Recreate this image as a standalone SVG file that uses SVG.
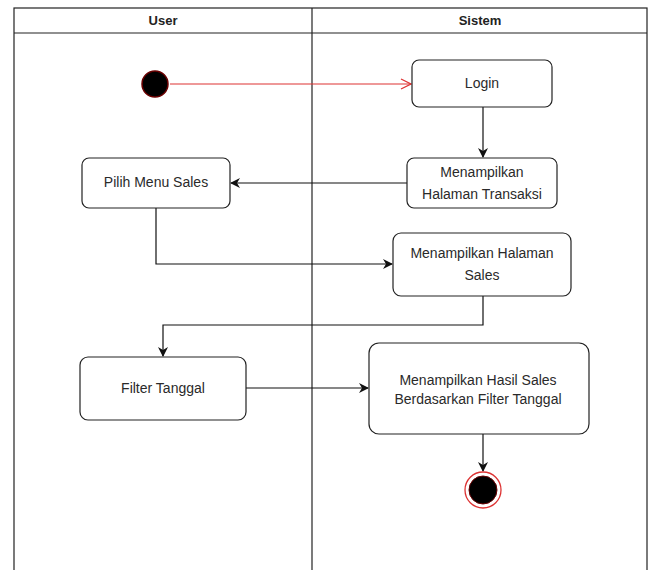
<svg xmlns="http://www.w3.org/2000/svg" width="651" height="570" viewBox="0 0 651 570">
<defs>
<style>
.lane{fill:none;stroke:#222;stroke-width:1.2}
.box{fill:#fff;stroke:#222;stroke-width:1.2}
.t{font-family:"Liberation Sans",Arial,sans-serif;font-size:14px;fill:#2a2a2a;text-anchor:middle}
.h{font-family:"Liberation Sans",Arial,sans-serif;font-size:13px;font-weight:bold;fill:#222;text-anchor:middle}
.c{fill:none;stroke:#111;stroke-width:1.2}
</style>
<marker id="a" viewBox="0 0 10 10" refX="9" refY="5" markerWidth="10" markerHeight="10" markerUnits="userSpaceOnUse" orient="auto">
<path d="M0,0 L10,5 L0,10 L3,5 Z" fill="#111"/>
</marker>
<marker id="o" viewBox="0 0 12 12" refX="11" refY="6" markerWidth="12" markerHeight="12" markerUnits="userSpaceOnUse" orient="auto">
<path d="M1,1 L11,6 L1,11" fill="none" stroke="#d33" stroke-width="1.3"/>
</marker>
</defs>
<rect width="651" height="570" fill="#fff"/>
<g id="swimlanes">
<rect class="lane" x="14" y="8" width="633" height="570"/>
<line class="lane" x1="14" y1="33" x2="647" y2="33"/>
<line class="lane" x1="312" y1="8" x2="312" y2="570"/>
<text class="h" x="163" y="25">User</text>
<text class="h" x="480" y="25">Sistem</text>
</g>
<g id="connectors">
<line x1="170" y1="84" x2="411" y2="84" stroke="#d33" stroke-width="1.2" marker-end="url(#o)"/>
<line class="c" x1="483" y1="107" x2="483" y2="157" marker-end="url(#a)"/>
<line class="c" x1="407" y1="183" x2="231" y2="183" marker-end="url(#a)"/>
<polyline class="c" points="156,208 156,264 392,264" marker-end="url(#a)"/>
<polyline class="c" points="483,296 483,325 163,325 163,356" marker-end="url(#a)"/>
<line class="c" x1="246" y1="388" x2="368" y2="388" marker-end="url(#a)"/>
<line class="c" x1="483" y1="434" x2="483" y2="471" marker-end="url(#a)"/>
</g>
<g id="start">
<circle cx="155" cy="84" r="13" fill="#000" stroke="#6a0000" stroke-width="1.5"/>
</g>
<g id="login">
<rect class="box" x="412" y="60" width="140" height="47" rx="7"/>
<text class="t" x="482" y="88">Login</text>
</g>
<g id="halaman-transaksi">
<rect class="box" x="407" y="158" width="150" height="50" rx="7"/>
<text class="t" x="482" y="177">Menampilkan</text>
<text class="t" x="482" y="199">Halaman Transaksi</text>
</g>
<g id="pilih-menu-sales">
<rect class="box" x="82" y="158" width="148" height="50" rx="7"/>
<text class="t" x="156" y="187">Pilih Menu Sales</text>
</g>
<g id="halaman-sales">
<rect class="box" x="393" y="233" width="178" height="63" rx="8"/>
<text class="t" x="482" y="258">Menampilkan Halaman</text>
<text class="t" x="482" y="280">Sales</text>
</g>
<g id="filter-tanggal">
<rect class="box" x="80" y="357" width="166" height="63" rx="8"/>
<text class="t" x="163" y="393">Filter Tanggal</text>
</g>
<g id="hasil-sales">
<rect class="box" x="369" y="343" width="220" height="91" rx="10"/>
<text class="t" x="478" y="385">Menampilkan Hasil Sales</text>
<text class="t" x="478" y="404">Berdasarkan Filter Tanggal</text>
</g>
<g id="end">
<circle cx="483" cy="490" r="18" fill="#fff" stroke="#d33" stroke-width="1.3"/>
<circle cx="483" cy="490" r="14" fill="#000" stroke="#6a0000" stroke-width="1"/>
</g>
</svg>
